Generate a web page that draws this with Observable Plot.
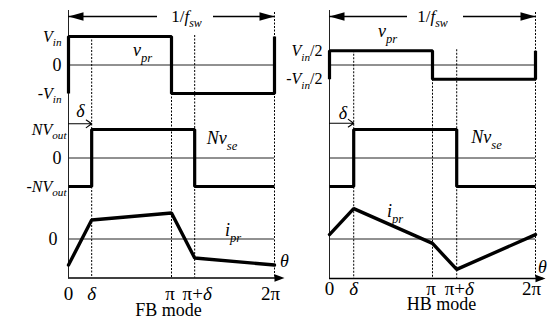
<!DOCTYPE html>
<html><head><meta charset="utf-8">
<script src="https://cdn.jsdelivr.net/npm/d3@7"></script>
<script src="https://cdn.jsdelivr.net/npm/@observablehq/plot@0.6"></script>
<style>
body{margin:0;background:#fff;}
#root{position:relative;width:551px;height:322px;overflow:hidden;background:#fff;}
#root > div{position:absolute;top:0;}
#root svg, #root svg text, #root svg tspan, #root svg g{font-family:"Liberation Serif","Times New Roman",serif !important;}
</style></head><body><div id="root"></div>
<script>
const PI = Math.PI;
// θ-axis tick labels (positions: 0, δ, π, π+δ, 2π)
const thetaTicks = ["0", "δ", "π", "π+δ", "2π"];
const modes = ["FB mode", "HB mode"];
// phase shift δ, in units of π
const deltaPi = [0.225, 0.235];
// primary voltage v_pr (units of Vin): first half, second half
const vprFB = [1, -1];
const vprHB = [0.5, -0.5];
const vprLabelsFB = ["V_{in}", "0", "-V_{in}"];
const vprLabelValsFB = [1, 0, -1];
const vprLabelsHB = ["V_{in}/2", "-V_{in}/2"];
const vprLabelValsHB = [0.5, -0.5];
// reflected secondary voltage N·v_se (units of N·Vout): 0..δ, δ..π+δ, π+δ..2π
const nvseLevels = [-1, 1, -1];
const nvseLabelsFB = ["NV_{out}", "0", "-NV_{out}"];
const nvseLabelValsFB = [1, 0, -1];
// primary current i_pr at θ = 0, δ, π, π+δ, 2π (normalised)
const iprFB = [-1, 0.73, 1, -0.73, -1];
const iprHB = [0.17, 1.17, -0.17, -1.17, 0.17];

// ---------- layout ----------
const W = 290, H = 322, X0 = 68, X1 = 274;
const pxPerRad = (X1 - X0) / (2 * PI);
const px = (p) => p / pxPerRad;              // pixel offset -> θ units
const rowV = d3.scaleLinear([-1, 1], [93, 36]);
const rowN = d3.scaleLinear([-1, 1], [186, 129]);
const rowI = d3.scaleLinear([-1, 1], [264.5, 212.5]);
const FONT = "Liberation Serif";

const panels = [
  {mode: modes[0], delta: deltaPi[0] * PI, vpr: vprFB, vprLabels: vprLabelsFB, vprLabelVals: vprLabelValsFB,
   nvseLabels: nvseLabelsFB, nvseLabelVals: nvseLabelValsFB, ipr: iprFB, iprZeroLabel: true,
   L: {gap: [89, 145], fswX: 118, vprLbl: [74, 50], nvseLbl: [153.5, 138], iprLbl: [164.5, 230],
       deltaLbl: [12, 111], deltaArrowY: 123.3, thetaLbl: [216, 261], tickY: 293, modeLbl: [100, 310], axisY: 277.5}},
  {mode: modes[1], delta: deltaPi[1] * PI, vpr: vprHB, vprLabels: vprLabelsHB, vprLabelVals: vprLabelValsHB,
   nvseLabels: [], nvseLabelVals: [], ipr: iprHB, iprZeroLabel: false,
   L: {gap: [78, 134], fswX: 103, vprLbl: [58, 31], nvseLbl: [157, 137], iprLbl: [65.5, 211],
       deltaLbl: [13.5, 113], deltaArrowY: 122.7, thetaLbl: [213, 267], tickY: 288, modeLbl: [112, 304], axisY: 278}}
];

const headSym = (len, hw) => ({draw(ctx) { ctx.moveTo(0, 0); ctx.lineTo(-len, -hw); ctx.lineTo(-len, hw); ctx.closePath(); }});

function segs(s) {
  const out = []; let i = 0;
  while (i < s.length) {
    if (s[i] === "_" && s[i + 1] === "{") {
      const j = s.indexOf("}", i);
      out.push({t: s.slice(i + 2, j), it: true, sub: true}); i = j + 1;
    } else {
      const c = s[i], it = /[A-Za-zδθ]/.test(c), last = out[out.length - 1];
      if (last && !last.sub && last.it === it) last.t += c; else out.push({t: c, it, sub: false});
      i++;
    }
  }
  return out;
}
function richText(svg) {
  d3.select(svg).selectAll("text").each(function () {
    const s = this.textContent;
    if (modes.includes(s)) return;   // plain captions stay upright
    const parts = segs(s), sel = d3.select(this);
    sel.text(null);
    let shifted = false;
    for (const p of parts) {
      const ts = sel.append("tspan").text(p.t).attr("font-style", p.it ? "italic" : "normal");
      if (p.sub) { ts.attr("font-size", "0.7em").attr("dy", "0.43em"); shifted = true; }
      else if (shifted) { ts.attr("dy", "-0.3em"); shifted = false; }
    }
  });
}

function panel(P) {
  const d = P.delta, L = P.L;
  const ticks = [0, d, PI, PI + d, 2 * PI];
  const [a, b] = P.vpr;
  const vprPts = [[0, b], [0, a], [PI, a], [PI, b], [2 * PI, b], [2 * PI, a]].map(([x, v]) => ({x, y: rowV(v)}));
  const [n0, n1, n2] = nvseLevels;
  const nvsePts = [[0, n0], [d, n0], [d, n1], [PI + d, n1], [PI + d, n2], [2 * PI, n2]].map(([x, v]) => ({x, y: rowN(v)}));
  const iprPts = ticks.map((x, i) => ({x, y: rowI(P.ipr[i])}));
  const axisY = L.axisY, topY = 16;
  const dotted = [
    {x: d, y1: rowV(a), y2: axisY}, {x: PI, y1: rowV(b), y2: axisY},
    {x: PI + d, y1: rowV(a) - 1, y2: axisY}, {x: 2 * PI, y1: 12, y2: axisY}
  ];
  const zeros = [rowV(0), rowN(0), rowI(0)].map(y => ({y}));
  const tickTxt = ticks.map((x, i) => ({x, y: L.tickY, text: thetaTicks[i], dx: i === 4 ? -4 : (i === 2 ? -1.5 : (i === 3 ? 2.5 : 0))}));
  const levelTxt = [
    ...P.vprLabels.map((t, i) => ({text: t, y: rowV(P.vprLabelVals[i]), size: t === "0" ? 18 : 16, dx: -7})),
    ...P.nvseLabels.map((t, i) => ({text: t, y: rowN(P.nvseLabelVals[i]), size: t === "0" ? 18 : 16, dx: t === "0" ? -7 : -2})),
    ...(P.iprZeroLabel ? [{text: "0", y: rowI(0), size: 18, dx: -11}] : [])
  ];
  const midTxt = [
    {x: px(L.vprLbl[0]), y: L.vprLbl[1], text: "v_{pr}", size: 18},
    {x: px(L.nvseLbl[0]), y: L.nvseLbl[1], text: "Nv_{se}", size: 18},
    {x: px(L.iprLbl[0]), y: L.iprLbl[1], text: "i_{pr}", size: 18},
    {x: px(L.deltaLbl[0]), y: L.deltaLbl[1], text: "δ", size: 18},
    {x: px(L.thetaLbl[0]), y: L.thetaLbl[1], text: "θ", size: 18},
    {x: px(L.fswX), y: topY, text: "1/f_{sw}", size: 17},
    {x: px(L.modeLbl[0]), y: L.modeLbl[1], text: P.mode, size: 18}
  ];
  const svg = Plot.plot({
    width: W, height: H, margin: 0,
    style: {background: "none", overflow: "visible", fontFamily: FONT},
    x: {domain: [0, 2 * PI], range: [X0, X1], axis: null},
    y: {type: "identity", axis: null},
    marks: [
      Plot.ruleY(zeros, {y: "y", x1: 0, x2: 2 * PI, stroke: "#222", strokeWidth: 1}),
      Plot.ruleX([{x: 0}], {x: "x", y1: 10, y2: axisY, stroke: "#222", strokeWidth: 1}),
      Plot.ruleX(dotted, {x: "x", y1: "y1", y2: "y2", stroke: "#000", strokeWidth: 1, strokeDasharray: "2,1.5"}),
      Plot.ruleY([{y: axisY}], {y: "y", x1: 0, x2: 2 * PI + px(8), stroke: "#000", strokeWidth: 1.3}),
      Plot.dot([{x: 2 * PI + px(10), y: axisY}], {x: "x", y: "y", r: 5, symbol: headSym(10, 3.8), fill: "#000", stroke: "none"}),
      Plot.ruleY([{x1: 0, x2: px(L.gap[0])}, {x1: px(L.gap[1]), x2: 2 * PI}], {y: topY, x1: "x1", x2: "x2", stroke: "#000", strokeWidth: 1.6}),
      Plot.dot([{x: 0, y: topY, rot: 180}, {x: 2 * PI, y: topY, rot: 0}], {x: "x", y: "y", rotate: "rot", r: 5, symbol: headSym(15, 4.2), fill: "#000", stroke: "none"}),
      Plot.arrow([{x1: 0, x2: d, y: L.deltaArrowY}], {x1: "x1", x2: "x2", y1: "y", y2: "y", stroke: "#000", strokeWidth: 1.1, headLength: 9, headAngle: 70}),
      Plot.line(vprPts, {x: "x", y: "y", stroke: "#000", strokeWidth: 3.2, strokeLinejoin: "miter", strokeLinecap: "butt"}),
      Plot.line(nvsePts, {x: "x", y: "y", stroke: "#000", strokeWidth: 3.2, strokeLinejoin: "miter", strokeLinecap: "butt"}),
      Plot.line(iprPts, {x: "x", y: "y", stroke: "#000", strokeWidth: 3.4, strokeLinejoin: "miter"}),
      ...levelTxt.map(t => Plot.text([t], {x: 0, y: "y", text: "text", dx: t.dx, fontSize: t.size, textAnchor: "end", fontFamily: FONT, fill: "#000"})),
      ...tickTxt.map(t => Plot.text([t], {x: "x", y: "y", text: "text", dx: t.dx, fontSize: 19, fontFamily: FONT, fill: "#000"})),
      Plot.text(midTxt, {x: "x", y: "y", text: "text", fontSize: "size", fontFamily: FONT, fill: "#000"})
    ]
  });
  richText(svg);
  return svg;
}

const root = document.getElementById("root");
[0, 261].forEach((left, i) => {
  const div = document.createElement("div");
  div.style.left = left + "px";
  div.style.width = W + "px";
  div.appendChild(panel(panels[i]));
  root.appendChild(div);
});
</script></body></html>
